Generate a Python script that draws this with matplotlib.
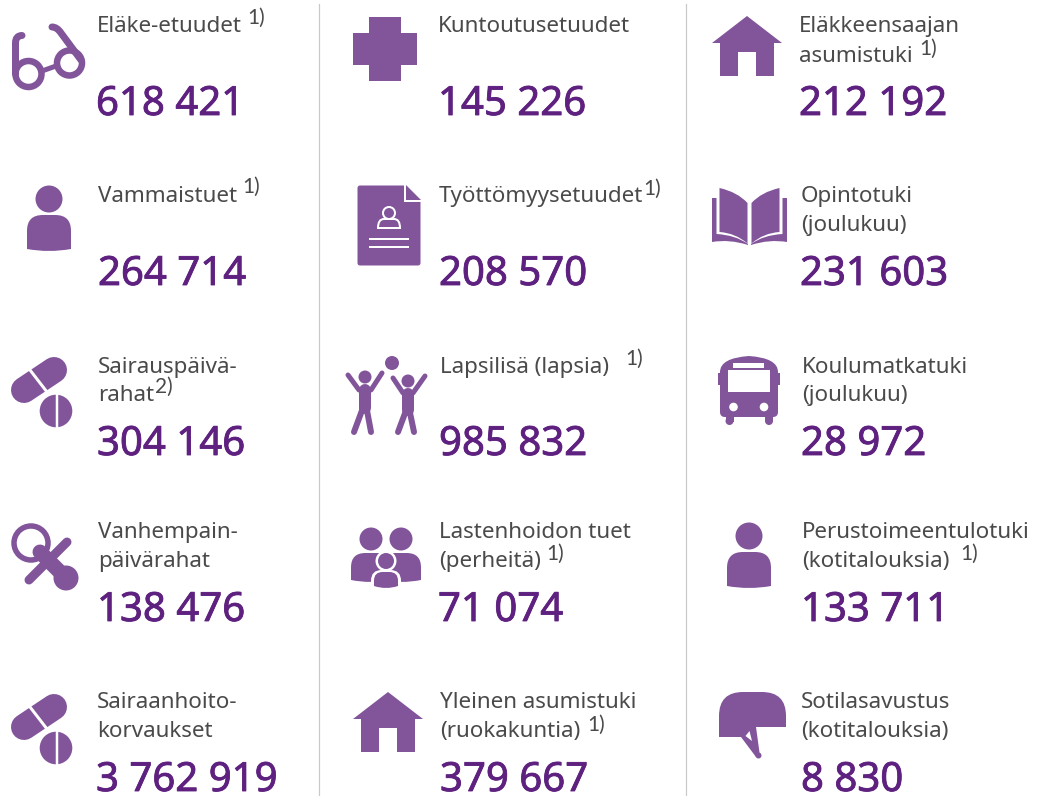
import numpy as np
import matplotlib
matplotlib.use("Agg")
import matplotlib.pyplot as plt
import matplotlib.patheffects as pe
from matplotlib.path import Path
from matplotlib.patches import PathPatch, Circle, FancyBboxPatch, Rectangle

# ---- chart content -------------------------------------------------------
col1_labels = [["Eläke-etuudet"], ["Vammaistuet"], ["Sairauspäivä-", "rahat"],
               ["Vanhempain-", "päivärahat"], ["Sairaanhoito-", "korvaukset"]]
col2_labels = [["Kuntoutusetuudet"], ["Työttömyysetuudet"], ["Lapsilisä (lapsia)"],
               ["Lastenhoidon tuet", "(perheitä)"], ["Yleinen asumistuki", "(ruokakuntia)"]]
col3_labels = [["Eläkkeensaajan", "asumistuki"], ["Opintotuki", "(joulukuu)"],
               ["Koulumatkatuki", "(joulukuu)"], ["Perustoimeentulotuki", "(kotitalouksia)"],
               ["Sotilasavustus", "(kotitalouksia)"]]
col1_values = ["618 421", "264 714", "304 146", "138 476", "3 762 919"]
col2_values = ["145 226", "208 570", "985 832", "71 074", "379 667"]
col3_values = ["212 192", "231 603", "28 972", "133 711", "8 830"]
col1_notes = ["1)", "1)", "2)", "", ""]
col2_notes = ["", "1)", "1)", "1)", "1)"]
col3_notes = ["1)", "", "", "1)", ""]

# ---- layout (pixels in the image) ----------------------------------------
W, H = 1037, 796
PURPLE = "#82559b"
DARK = "#5f2180"
GREY = "#4a4a4a"
line1_y = [32, 202, 373, 538, 708]
line2_y = [62, 231, 401, 567, 737]
value_y = [115, 285, 455, 621, 791]
col_x_label = [[97, 98, 98, 98, 97], [438, 439, 440, 439, 440], [799, 801, 802, 802, 801]]
col_x_value = [[96, 98, 97, 97, 96], [438, 439, 439, 438, 440], [799, 800, 801, 801, 801]]
note_xy = [[(247, 24), (242, 193), (155, 393), None, None],
           [None, (643, 195), (625, 365), (546, 560), (587, 731)],
           [(919, 55), None, None, (960, 560), None]]
LABEL_FONT = dict(family="Noto Sans", fontsize=16.1, color=GREY)
VALUE_FONT = dict(family="Noto Sans", fontsize=28.9, color=DARK, fontweight=500,
                  path_effects=[pe.withStroke(linewidth=0.6, foreground=DARK)])
NOTE_FONT = dict(family=["Liberation Sans Narrow", "Lato"], fontsize=15, color=GREY)

fig = plt.figure(figsize=(W / 100, H / 100), dpi=100, facecolor="white")
ax = fig.add_axes([0, 0, 1, 1])
ax.set_xlim(0, W)
ax.set_ylim(H, 0)
ax.axis("off")


def px(w):
    return w * 0.72


def fill(verts, codes=None, color=PURPLE, z=2):
    p = Path(verts, codes) if codes else Path(verts)
    ax.add_patch(PathPatch(p, fc=color, ec="none", lw=0, zorder=z))


def stroke(xs, ys, w, color=PURPLE, z=2):
    ax.plot(xs, ys, color=color, lw=px(w), solid_capstyle="round",
            solid_joinstyle="round", zorder=z)


def curve(verts, codes, w, color=PURPLE, z=2):
    ax.add_patch(PathPatch(Path(verts, codes), fc="none", ec=color, lw=px(w),
                           capstyle="round", joinstyle="round", zorder=z))


def disc(x, y, r, color=PURPLE, z=2):
    ax.add_patch(Circle((x, y), r, fc=color, ec="none", zorder=z))


def ring(x, y, r, w, color=PURPLE, z=2):
    ax.add_patch(Circle((x, y), r, fc="none", ec=color, lw=px(w), zorder=z))


C3, C4, L, M = Path.CURVE3, Path.CURVE4, Path.LINETO, Path.MOVETO


def person_body(x0, x1, top, bottom, z=2, color=PURPLE):
    xm = (x0 + x1) / 2
    rad = (x1 - x0) * 0.36
    v = [(x0, bottom - 2), (x0, top + rad), (x0, top), (x0 + rad, top), (x1 - rad, top),
         (x1, top), (x1, top + rad), (x1, bottom - 2), (xm, bottom + 2), (x0, bottom - 2), (x0, bottom - 2)]
    c = [M, L, C3, C3, L, C3, C3, L, C3, C3, Path.CLOSEPOLY]
    fill(v, c, color=color, z=z)


def glasses():
    ring(28.5, 74, 13, 6.5)
    ring(69.5, 63, 12.5, 6.5)
    stroke([42, 56], [71, 66], 5)
    curve([(15.5, 74), (15.5, 43), (15.5, 35.5), (22, 35.5)], [M, L, C3, C3], 7)
    curve([(81, 60), (61, 33), (57, 27), (52, 27)], [M, L, C3, C3], 7)


def person(dx=0, dy=0):
    disc(49 + dx, 199 + dy, 13.5)
    person_body(27 + dx, 71 + dx, 215 + dy, 251 + dy)


def pills(dy=0):
    stroke([24, 54], [390 + dy, 370 + dy], 26)
    ax.plot([30, 47], [370 + dy, 392 + dy], color="white", lw=px(3), zorder=3)
    disc(56, 411 + dy, 16.3)
    ax.plot([56.5, 56.5], [394 + dy, 428 + dy], color="white", lw=px(2.5), zorder=3)


def pacifier():
    ring(31, 543, 17, 5.5)
    stroke([29, 67], [580, 542], 9)
    stroke([40, 66], [552, 578], 15)
    disc(66, 578, 12.5)


def plus():
    fill([(369, 17), (401, 17), (401, 33), (417, 33), (417, 65), (401, 65), (401, 81),
          (369, 81), (369, 65), (353, 65), (353, 33), (369, 33), (369, 17)])


def house(dx=0, dy=0):
    fill([(712 + dx, 43 + dy), (747 + dx, 16 + dy), (782 + dx, 43 + dy), (774 + dx, 43 + dy),
          (774 + dx, 76 + dy), (756 + dx, 76 + dy), (756 + dx, 52 + dy), (738 + dx, 52 + dy),
          (738 + dx, 76 + dy), (720 + dx, 76 + dy), (720 + dx, 43 + dy), (712 + dx, 43 + dy)])


def document():
    ax.add_patch(FancyBboxPatch((358, 186), 62, 79, boxstyle="round,pad=0,rounding_size=2",
                                fc=PURPLE, ec=PURPLE, lw=px(1), zorder=2))
    fill([(404, 183), (423, 183), (423, 202), (404, 202), (404, 183)], color="white", z=3)
    fill([(406, 185), (421, 200), (406, 200), (406, 185)], color=PURPLE, z=4)
    ring(389, 213, 6, 2, color="white", z=5)
    v = [(378, 228), (378, 219), (384, 219), (394, 219), (400, 219), (400, 228), (378, 228)]
    c = [M, C3, C3, L, C3, C3, Path.CLOSEPOLY]
    ax.add_patch(PathPatch(Path(v, c), fc="none", ec="white", lw=px(2), zorder=5))
    ax.plot([370, 408], [239, 239], color="white", lw=px(2), zorder=5)
    ax.plot([370, 408], [247, 247], color="white", lw=px(2), zorder=5)


def kids():
    disc(392, 363, 7)
    disc(365, 377, 6.5)
    stroke([348, 359, 371, 382], [375, 390, 390, 373], 5)
    stroke([365, 365], [390, 408], 12)
    stroke([364, 354], [405, 432], 6)
    stroke([366, 371], [405, 432], 6)
    disc(408, 381, 6.5)
    stroke([393, 403, 413, 425], [378, 393, 393, 376], 5)
    stroke([408, 408], [394, 410], 12)
    stroke([407, 398], [408, 432], 6)
    stroke([409, 414], [408, 432], 6)


def family():
    disc(371, 539, 11.5)
    disc(401, 539, 11.5)
    person_body(351, 391, 553, 582)
    person_body(381, 421, 553, 582)
    disc(386, 561, 10.5, color="white", z=3)
    disc(386, 561, 8, z=4)
    person_body(371, 401, 570, 592, z=3, color="white")
    person_body(374, 398, 572, 588, z=4)


def book():
    for s in (-1, 1):
        X = lambda d: 749.5 + s * d
        v = [(X(2), 203), (X(12), 192), (X(30), 188), (X(30), 232), (X(14), 233), (X(2), 243.5),
             (X(2), 203)]
        c = [M, C3, C3, L, C3, C3, Path.CLOSEPOLY]
        fill(v, c)
        v = [(X(33), 198), (X(37.5), 198), (X(37.5), 242), (X(20), 239), (X(1.5), 245),
             (X(1.5), 244), (X(14), 235), (X(33), 234), (X(33), 198)]
        c = [M, L, L, C3, C3, L, C3, C3, Path.CLOSEPOLY]
        fill(v, c)


def bus():
    v = [(720, 372), (720, 358), (749, 356), (778, 358), (778, 372), (778, 412), (778, 417), (773, 417),
         (725, 417), (720, 417), (720, 412), (720, 372)]
    c = [M, C3, C3, C3, C3, L, C3, C3, L, C3, C3, Path.CLOSEPOLY]
    fill(v, c)
    ax.add_patch(Rectangle((718, 373), 62, 12, fc=PURPLE, ec="none", zorder=2))
    ax.add_patch(Rectangle((725.5, 414), 8, 8, fc=PURPLE, ec="none", zorder=2))
    ax.add_patch(Rectangle((765, 414), 8, 8, fc=PURPLE, ec="none", zorder=2))
    disc(729.5, 421, 4)
    disc(769, 421, 4)
    ax.add_patch(Rectangle((728, 370), 42, 22, fc="white", ec="none", zorder=3))
    ax.add_patch(Rectangle((733, 363), 31, 5, fc="white", ec="none", zorder=3))
    disc(733.5, 407, 4.3, color="white", z=3)
    disc(764, 407, 4.3, color="white", z=3)


def helmet():
    v = [(719, 737), (719, 716), (719, 692), (743, 692), (762, 692), (786, 692), (786, 716), (786, 727),
         (756, 727), (760, 756), (756, 757), (741, 737), (719, 737)]
    c = [M, L, C3, C3, L, C3, C3, L, L, L, L, L, Path.CLOSEPOLY]
    fill(v, c)
    disc(758.5, 755.5, 3)
    fill([(749.5, 731), (752, 741), (745.5, 736), (749.5, 731)], color="white", z=3)


for i, lab_col in enumerate([col1_labels, col2_labels, col3_labels]):
    vals = [col1_values, col2_values, col3_values][i]
    notes = [col1_notes, col2_notes, col3_notes][i]
    for r, lines in enumerate(lab_col):
        ax.text(col_x_label[i][r], line1_y[r], lines[0], va="baseline", ha="left", **LABEL_FONT)
        if len(lines) > 1:
            ax.text(col_x_label[i][r], line2_y[r], lines[1], va="baseline", ha="left", **LABEL_FONT)
        ax.text(col_x_value[i][r], value_y[r], vals[r], va="baseline", ha="left", **VALUE_FONT)
        if notes[r]:
            nx, ny = note_xy[i][r]
            ax.text(nx, ny, notes[r], va="baseline", ha="left", **NOTE_FONT)

for x in (319, 686):
    ax.plot([x, x], [4, 796], color="#c9c9c9", lw=px(1.2), zorder=1)

glasses(); person(); pills(); pacifier(); pills(337)
plus(); document(); kids(); family(); house(-359, 676)
house(); book(); bus(); person(700, 337); helmet()

fig.savefig("out.png", dpi=100, facecolor="white")
